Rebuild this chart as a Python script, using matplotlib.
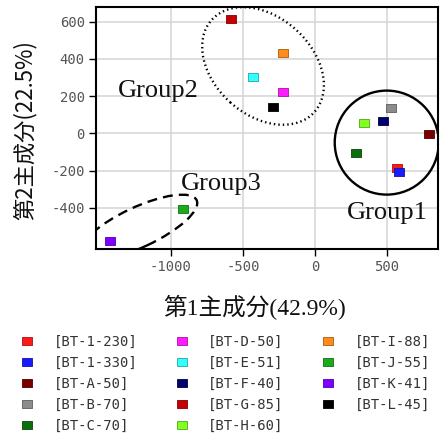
import matplotlib
matplotlib.use("Agg")
import matplotlib.pyplot as plt
import matplotlib.transforms as mtransforms
from matplotlib.patches import Ellipse
from matplotlib.path import Path
from matplotlib.lines import Line2D
import matplotlib.colors as mcolors

plt.rcParams['axes.unicode_minus'] = False

# PCA scores per sample
samples = ["[BT-1-230]", "[BT-1-330]", "[BT-A-50]", "[BT-B-70]", "[BT-C-70]",
           "[BT-D-50]", "[BT-E-51]", "[BT-F-40]", "[BT-G-85]", "[BT-H-60]",
           "[BT-I-88]", "[BT-J-55]", "[BT-K-41]", "[BT-L-45]"]
pc1 = [567, 586, 794, 525, 282,
       -225, -428, 470, -583, 338,
       -225, -917, -1424, -289]
pc2 = [-188, -210, -2, 137, -108,
       222, 301, 65, 615, 54,
       430, -405, -581, 140]
colors = ["#ff1a1a", "#1a1aff", "#7a0000", "#8c8c8c", "#0a6e0a",
          "#ff1aff", "#33ffff", "#000070", "#c80000", "#80ff20",
          "#ff8c1a", "#1aaa1a", "#8000ff", "#000000"]

xticks = [-1000, -500, 0, 500]
yticks = [600, 400, 200, 0, -200, -400]

# group outlines: (label, centre x, centre y, width in, height in, angle, linestyle)
groups = [
    ("Group1", 498, -50, 1.04, 1.04, 0, "-"),
    ("Group2", -361, 362, 1.38, 0.98, -42, (0, (0.6, 1.3))),
    ("Group3", -1225, -505, 1.28, 0.40, 25, (0, (4.2, 2.6))),
]
group_labels = [("Group1", 500, -426), ("Group2", -1090, 230), ("Group3", -653, -270)]

W, H = 448, 444
fig = plt.figure(figsize=(W / 100, H / 100), dpi=100)
ax = fig.add_axes([96 / W, 1 - 249 / H, (438 - 96) / W, (249 - 7) / H])

# slightly wide rectangular marker
rect = Path([(-1, -0.8), (1, -0.8), (1, 0.8), (-1, 0.8), (-1, -0.8)],
            [Path.MOVETO, Path.LINETO, Path.LINETO, Path.LINETO, Path.CLOSEPOLY])


def edge_of(c):
    r, g, b = mcolors.to_rgb(c)
    return (r * 0.65, g * 0.65, b * 0.65)


handles = []
for name, x, y, c in zip(samples, pc1, pc2, colors):
    ax.plot([x], [y], linestyle="none", marker=rect, markersize=6.7,
            markerfacecolor=c, markeredgecolor=edge_of(c), markeredgewidth=0.6,
            zorder=4)
    handles.append(Line2D([], [], linestyle="none", marker=rect, markersize=6.5,
                          markerfacecolor=c, markeredgecolor=edge_of(c),
                          markeredgewidth=0.6, label=name))

for name, cx, cy, w, h, ang, ls in groups:
    tr = fig.dpi_scale_trans + mtransforms.ScaledTranslation(cx, cy, ax.transData)
    e = Ellipse((0, 0), w, h, angle=ang, transform=tr, fill=False,
                edgecolor="black", linewidth=1.7, linestyle=ls, zorder=3)
    ax.add_patch(e)
    e.set_clip_path(ax.patch)

for name, x, y in group_labels:
    ax.text(x, y, name, family="Liberation Serif", fontsize=19,
            ha="center", va="center", color="#111111", zorder=5)

ax.set_xlim(-1521, 854)
ax.set_ylim(-622, 679)
ax.set_xticks(xticks)
ax.set_yticks(yticks)
ax.grid(True, color="#d4d4d4", linewidth=1.1)
ax.set_axisbelow(True)
for s in ax.spines.values():
    s.set_linewidth(1.5)
    s.set_color("black")
ax.tick_params(direction="out", length=5, width=1.0, pad=3, labelsize=10,
               labelcolor="#555555")
for lab in ax.get_xticklabels() + ax.get_yticklabels():
    lab.set_family("DejaVu Sans Mono")

fig.text(255 / W, 1 - 307 / H, "第1主成分(42.9%)",
         family=["Liberation Serif", "Noto Sans CJK JP"], fontsize=17,
         ha="center", va="center", color="#111111")
fig.text(25 / W, 1 - 130 / H, "第2主成分(22.5%)",
         family=["Noto Sans CJK JP"], fontsize=16, rotation=90,
         ha="center", va="center", color="#111111")

leg = fig.legend(handles=handles, ncol=3, loc="upper left",
                 bbox_to_anchor=(20.4 / W, 1 - 335 / H),
                 frameon=False, borderpad=0, borderaxespad=0,
                 handlelength=1.0, handletextpad=1.4, columnspacing=2.7,
                 labelspacing=0.5, prop={"family": "DejaVu Sans Mono", "size": 10})
for t in leg.get_texts():
    t.set_color("#333333")

fig.savefig("out.png", dpi=100, facecolor="white")
